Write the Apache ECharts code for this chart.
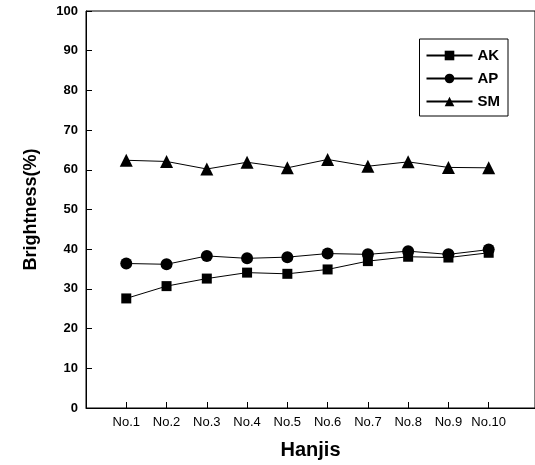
<!DOCTYPE html>
<html><head><meta charset="utf-8">
<script src="https://cdn.jsdelivr.net/npm/echarts@6/dist/echarts.min.js"></script>
<style>html,body{margin:0;padding:0;background:#fff}#c{width:535px;height:465px}</style>
</head><body><div id="c"></div>
<script>
const categories = ['No.1','No.2','No.3','No.4','No.5','No.6','No.7','No.8','No.9','No.10'];
const AK = [27.6, 30.7, 32.6, 34.1, 33.8, 34.9, 37.0, 38.1, 37.9, 39.1];
const AP = [36.4, 36.2, 38.3, 37.7, 38.0, 38.9, 38.7, 39.5, 38.7, 39.9];
const SM = [62.4, 62.1, 60.2, 61.9, 60.5, 62.6, 60.9, 62.0, 60.6, 60.5];
const yTicks = [0,10,20,30,40,50,60,70,80,90,100];

const pos = categories.map((c,i)=>i+1);
const pair = arr => arr.map((v,i)=>[pos[i], v]);
const chart = echarts.init(document.getElementById('c'));
const font = 'Arial, "Liberation Sans", sans-serif';
function ser(name, data, symbol, size){
  return {name, type:'line', data:pair(data), symbol, symbolSize:size,
    lineStyle:{color:'#000', width:1}, itemStyle:{color:'#000'}, animation:false};
}
chart.setOption({
  animation:false,
  grid:{left:86, right:-1, top:11, bottom:56, show:true, borderColor:'#000', borderWidth:1},
  legend:{
    right:27, top:39, orient:'vertical', itemWidth:46, itemHeight:12, itemGap:8,
    borderColor:'#000', borderWidth:1, padding:[9,8,7,6],
    textStyle:{fontFamily:font, fontSize:15, fontWeight:'bold', color:'#000'},
    data:['AK','AP','SM']
  },
  xAxis:{
    type:'value', min:0, max:11.15, interval:1,
    name:'Hanjis', nameLocation:'middle', nameGap:32,
    nameTextStyle:{fontFamily:font, fontSize:20, fontWeight:'bold', color:'#000'},
    axisLine:{lineStyle:{color:'#000', width:1}},
    axisTick:{inside:true, length:6, lineStyle:{color:'#000'}, customValues:pos},
    axisLabel:{customValues:pos, formatter:v=>categories[v-1]||'', fontFamily:font, fontSize:13, color:'#000', margin:8},
    splitLine:{show:false}
  },
  yAxis:{
    type:'value', min:0, max:100, interval:10,
    name:'Brightness(%)', nameLocation:'middle', nameGap:46,
    nameTextStyle:{fontFamily:font, fontSize:18, fontWeight:'bold', color:'#000'},
    axisLine:{show:true, lineStyle:{color:'#000', width:1}},
    axisTick:{inside:true, length:6, lineStyle:{color:'#000'}, customValues:yTicks},
    axisLabel:{customValues:yTicks, fontFamily:font, fontSize:13, fontWeight:'bold', color:'#000', margin:8},
    splitLine:{show:false}
  },
  series:[ser('AK', AK, 'rect', 10), ser('AP', AP, 'circle', 12), ser('SM', SM, 'triangle', 13)]
});
</script></body></html>
